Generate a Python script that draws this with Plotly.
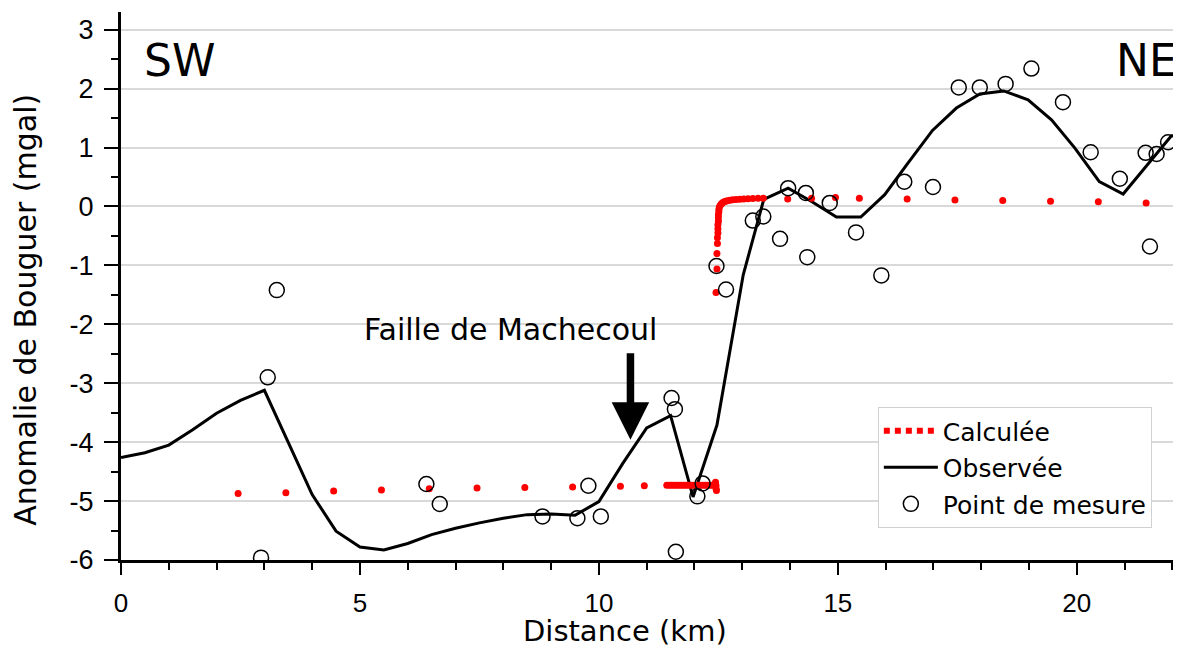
import plotly.graph_objects as go

# observed anomaly profile (black line)
obs_x = [0, 0.5, 1.0, 1.5, 2.0, 2.5, 3.0, 3.5, 4.0, 4.5, 5.0, 5.5, 6.0, 6.5, 7.0, 7.5,
         8.0, 8.5, 9.0, 9.5, 10.0, 10.5, 11.0, 11.5, 11.97, 12.47, 13.02, 13.45, 13.96,
         14.45, 14.97, 15.48, 15.98, 16.47, 16.98, 17.48, 17.97, 18.47, 18.98, 19.47,
         19.96, 20.47, 20.97, 21.46, 21.98, 22.2]
obs_y = [-4.26, -4.18, -4.05, -3.79, -3.51, -3.29, -3.12, -4.02, -4.89, -5.51, -5.78,
         -5.83, -5.72, -5.57, -5.46, -5.37, -5.29, -5.23, -5.22, -5.24, -5.01, -4.36,
         -3.76, -3.55, -4.93, -3.71, -1.16, 0.12, 0.31, 0.085, -0.18, -0.18, 0.2, 0.74,
         1.29, 1.67, 1.91, 1.96, 1.81, 1.47, 0.99, 0.42, 0.21, 0.69, 1.2, 1.21]

# calculated anomaly (red dots)
calc_x = [2.45, 3.45, 4.45, 5.45, 6.45, 7.45, 8.45, 9.45, 10.45, 10.95,
          11.42, 11.47, 11.52, 11.57, 11.62, 11.67, 11.72, 11.77, 11.82, 11.87, 11.92,
          11.97, 12.02, 12.07, 12.12, 12.17, 12.22, 12.27, 12.32, 12.37, 12.41, 12.43,
          12.44, 12.45, 12.45, 12.46,
          12.45, 12.47, 12.47, 12.48, 12.48, 12.49, 12.49, 12.49, 12.5, 12.5, 12.5,
          12.51, 12.51, 12.52, 12.54, 12.56, 12.58, 12.61, 12.65, 12.69, 12.74, 12.8,
          12.87, 12.95, 13.03, 13.12, 13.22, 13.33, 13.44,
          13.95, 14.45, 14.95, 15.45, 16.45, 17.45, 18.45, 19.45, 20.45, 21.45]
calc_y = [-4.87, -4.86, -4.83, -4.81, -4.79, -4.78, -4.77, -4.76, -4.75, -4.74,
          -4.73, -4.73, -4.73, -4.73, -4.73, -4.73, -4.73, -4.73, -4.73, -4.73, -4.73,
          -4.73, -4.73, -4.73, -4.73, -4.73, -4.73, -4.73, -4.73, -4.73, -4.72, -4.72,
          -4.68, -4.74, -4.79, -4.82,
          -1.46, -1.06, -0.80, -0.63, -0.53, -0.45, -0.38, -0.31, -0.25, -0.19, -0.14,
          -0.09, -0.05, -0.01, 0.02, 0.04, 0.06, 0.075, 0.088, 0.098, 0.105, 0.112,
          0.118, 0.123, 0.128, 0.132, 0.135, 0.138, 0.14,
          0.125, 0.14, 0.15, 0.14, 0.125, 0.11, 0.10, 0.09, 0.08, 0.06]

# measurement points (open circles)
mes_x = [2.93, 3.07, 3.26, 6.39, 6.67, 8.82, 9.55, 9.78, 10.04, 11.52, 11.59, 11.61,
         12.06, 12.17, 12.46, 12.66, 13.22, 13.44, 13.79, 13.96, 14.33, 14.36, 14.83,
         15.38, 15.91, 16.39, 16.99, 17.53, 17.97, 18.51, 19.05, 19.71, 20.29, 20.9,
         21.44, 21.53, 21.67, 21.91]
mes_y = [-5.96, -2.90, -1.42, -4.71, -5.05, -5.26, -5.29, -4.74, -5.26, -3.25, -3.44,
         -5.86, -4.92, -4.70, -1.01, -1.41, -0.24, -0.17, -0.55, 0.31, 0.23, -0.86, 0.06,
         -0.44, -1.17, 0.42, 0.33, 2.02, 2.02, 2.08, 2.34, 1.77, 0.92, 0.47, 0.91, -0.68,
         0.89, 1.09]

y_ticks = [-6, -5, -4, -3, -2, -1, 0, 1, 2, 3]
y_labels = ['-6', '-5', '-4', '-3', '-2', '-1', '0', '1', '2', '3']
x_ticks = [0, 5, 10, 15, 20]

fig = go.Figure()

fig.add_trace(go.Scatter(x=obs_x, y=obs_y, mode='lines', name='Observée',
                         legendrank=2, legendgroup='b',
                         line=dict(color='black', width=3)))
fig.add_trace(go.Scatter(x=calc_x, y=calc_y, mode='markers', name='Calculée',
                         showlegend=False,
                         marker=dict(color='red', size=7)))
# legend entry for the calculated curve (dotted look)
fig.add_trace(go.Scatter(x=[None], y=[None], mode='lines', name='Calculée',
                         legendrank=1, legendgroup='a',
                         line=dict(color='red', width=6, dash='6px,5px')))
fig.add_trace(go.Scatter(x=mes_x, y=mes_y, mode='markers', name='Point de mesure',
                         legendrank=3, legendgroup='c',
                         marker=dict(symbol='circle-open', size=15, color='black',
                                     line=dict(width=1.5, color='black'))))

# fault label and arrow
fig.add_annotation(x=8.14, y=-2.09, text='Faille de Machecoul', showarrow=False,
                   font=dict(family='DejaVu Sans', size=30, color='black'))
fig.add_annotation(x=10.66, y=-3.96, text='', showarrow=True, ax=0, ay=-88,
                   arrowhead=2, arrowwidth=7.5, arrowsize=1, arrowcolor='black')

# direction labels
fig.add_annotation(xref='paper', yref='paper', x=0.02, y=0.912, text='SW',
                   showarrow=False, xanchor='left', yanchor='middle',
                   font=dict(family='DejaVu Sans', size=44, color='black'))
fig.add_annotation(xref='paper', yref='paper', x=0.998, y=0.912, text='NE',
                   showarrow=False, xanchor='right', yanchor='middle',
                   font=dict(family='DejaVu Sans', size=44, color='black'))

# axis titles
fig.add_annotation(xref='paper', yref='paper', x=0.4755, y=-0.13, text='Distance (km)',
                   showarrow=False, xanchor='center', yanchor='middle',
                   font=dict(family='DejaVu Sans', size=29, color='black'))
fig.add_annotation(xref='paper', yref='paper', x=-0.09, y=0.456,
                   text='Anomalie de Bouguer (mgal)', textangle=-90,
                   showarrow=False, xanchor='center', yanchor='middle',
                   font=dict(family='DejaVu Sans', size=30, color='black'))

# page body keeps an 8px margin, so the figure is 8px smaller than the window
fig.update_layout(
    width=1173, height=639,
    margin=dict(l=113, r=0, t=4, b=87),
    plot_bgcolor='white', paper_bgcolor='white',
    showlegend=True,
    legend=dict(x=0.714, y=0.279, xanchor='left', yanchor='top',
                bgcolor='white', bordercolor='#d0d0d0', borderwidth=1,
                traceorder='grouped', tracegroupgap=1, itemwidth=54,
                font=dict(family='DejaVu Sans', size=25, color='black')),
)
fig.update_xaxes(range=[0, 22.18], tickvals=x_ticks, automargin=False,
                 showline=True, linewidth=3, linecolor='black',
                 showgrid=False, zeroline=False,
                 ticks='outside', ticklen=12, tickwidth=1.5, tickcolor='black',
                 ticklabelstandoff=6,
                 minor=dict(tickmode='linear', tick0=0, dtick=1, ticks='outside',
                            ticklen=7, tickwidth=1.5, tickcolor='black', showgrid=False),
                 tickfont=dict(family='Liberation Sans', size=26, color='black'))
fig.update_yaxes(range=[-6, 3.3], tickvals=y_ticks, ticktext=y_labels, automargin=False,
                 showline=True, linewidth=3, linecolor='black',
                 showgrid=True, gridcolor='#d9d9d9', gridwidth=1.5, zeroline=False,
                 ticks='outside', ticklen=14, tickwidth=1.5, tickcolor='black',
                 ticklabelstandoff=5,
                 minor=dict(tickmode='linear', tick0=-6, dtick=0.5, ticks='outside',
                            ticklen=7, tickwidth=1.5, tickcolor='black', showgrid=False),
                 tickfont=dict(family='Liberation Sans', size=27, color='black'))

fig.write_html("out.html")
